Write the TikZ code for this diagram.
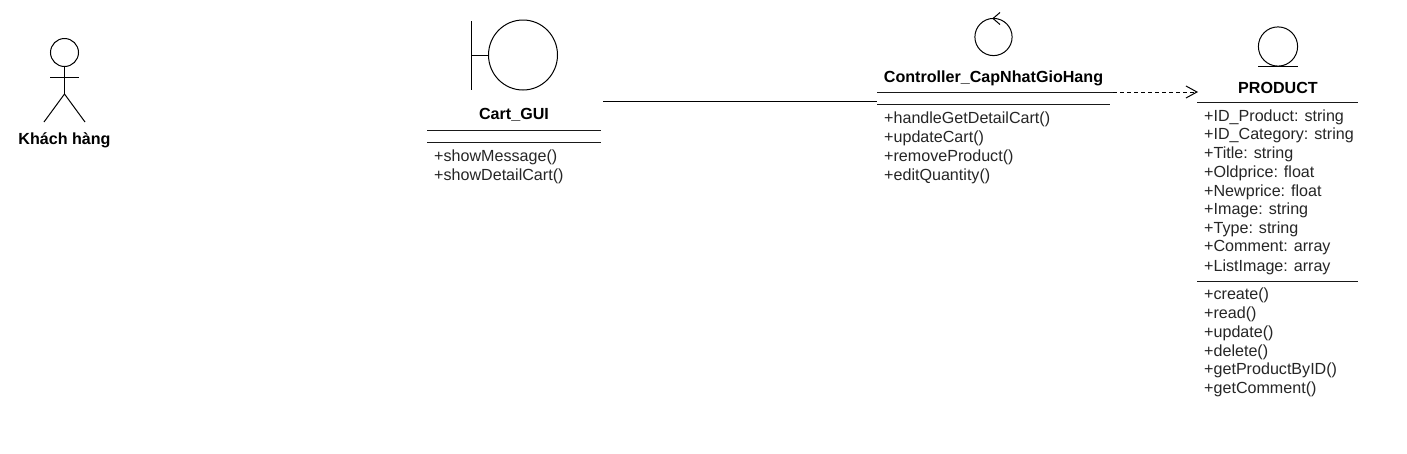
\documentclass[tikz,border=0pt]{standalone}
\usepackage{fontspec}
\setmainfont{Liberation Sans}
\usetikzlibrary{arrows.meta}
\tikzset{
  px/.style={x=1pt,y=-1pt},
  shapeline/.style={draw=black,line width=1pt},
  rule/.style={draw=black!90,line width=1pt},
  title/.style={font=\fontsize{16.1}{18}\selectfont\bfseries,inner sep=0pt,text=black,yshift=-1pt},
  member/.style={font=\fontsize{16.1}{18}\selectfont,inner sep=0pt,anchor=west,text=black!85,yshift=-1pt},
  dep/.style={draw=black,line width=1pt,dash pattern=on 3.5pt off 3.5pt,-{Straight Barb[length=11pt,width=12pt,line width=1pt]}}
}
\begin{document}
\begin{tikzpicture}[px]
\useasboundingbox[fill=white] (0,0) rectangle (1407,453);
% actor
\draw[shapeline] (64.5,52.5) ellipse (14 and 14);
\draw[shapeline] (64.5,66.5) -- (64.5,94);
\draw[shapeline] (50,77) -- (79,77);
\draw[shapeline] (44,122) -- (64.5,94) -- (85,122);
\node[title] (actor) at (64.5,139) {Khách hàng};
% boundary
\draw[shapeline] (471,21) -- (471,90);
\draw[shapeline] (471,55) -- (488,55);
\draw[shapeline] (523,55) ellipse (34.5 and 35);
\node[title] (cart) at (514,114) {Cart\_GUI};
\draw[rule] (427,130) -- (601,130);
\draw[rule] (427,142) -- (601,142);
\node[member] (m1) at (434,156) {+showMessage()};
\node[member] (m2) at (434,175) {+showDetailCart()};
% control
\draw[shapeline] (993.5,37) circle (18.6);
\draw[shapeline] (1000,12.5) -- (993,18.5) -- (1000,24.5);
\node[title] (ctrl) at (993.5,77.5) {Controller\_CapNhatGioHang};
\draw[rule] (877,92) -- (1113,92);
\draw[rule] (877,104.5) -- (1110,104.5);
\node[member] (c1) at (884,118) {+handleGetDetailCart()};
\node[member] (c2) at (884,137) {+updateCart()};
\node[member] (c3) at (884,156) {+removeProduct()};
\node[member] (c4) at (884,175) {+editQuantity()};
% entity
\draw[shapeline] (1278,46.5) circle (19.6);
\draw[shapeline] (1258,66) -- (1298,66);
\node[title] (prod) at (1278,87) {PRODUCT};
\draw[rule] (1197,102) -- (1358,102);
\draw[rule] (1197,281) -- (1358,281);
\node[member] (a1) at (1204,116) {+ID\_Product: string};
\node[member] (a2) at (1204,134.5) {+ID\_Category: string};
\node[member] (a3) at (1204,153.5) {+Title: string};
\node[member] (a4) at (1204,172) {+Oldprice: float};
\node[member] (a5) at (1204,191) {+Newprice: float};
\node[member] (a6) at (1204,209.5) {+Image: string};
\node[member] (a7) at (1204,228) {+Type: string};
\node[member] (a8) at (1204,247) {+Comment: array};
\node[member] (a9) at (1204,266) {+ListImage: array};
\node[member] (o1) at (1204,294.5) {+create()};
\node[member] (o2) at (1204,313) {+read()};
\node[member] (o3) at (1204,332) {+update()};
\node[member] (o4) at (1204,351) {+delete()};
\node[member] (o5) at (1204,369.5) {+getProductByID()};
\node[member] (o6) at (1204,388) {+getComment()};
% connectors
\coordinate (cartR) at (603,101);
\coordinate (ctrlL) at (877,101);
\coordinate (ctrlR) at (1113,92);
\coordinate (prodL) at (1198,92);
\draw[shapeline] (cartR) -- (ctrlL);
\draw[dep] (ctrlR) -- (prodL);
\end{tikzpicture}
\end{document}
